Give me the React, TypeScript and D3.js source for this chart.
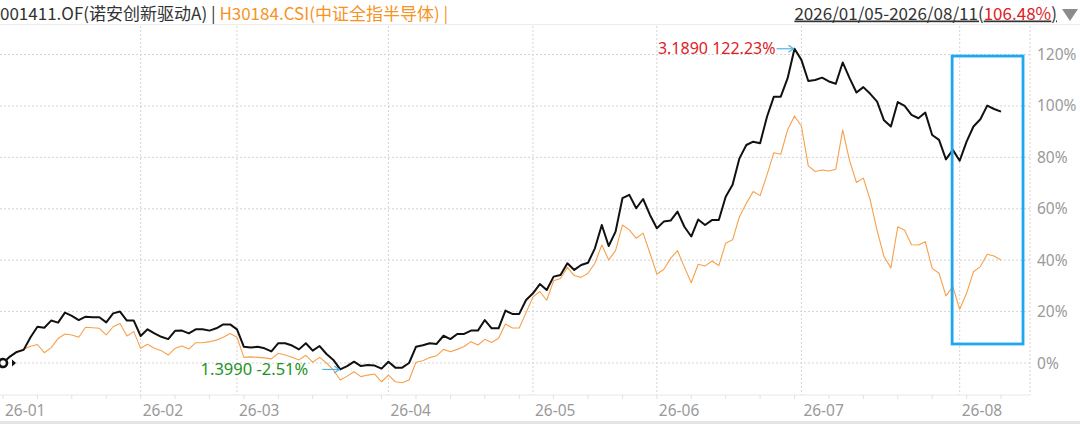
import { useEffect } from "react"
import * as d3 from "d3"

// month ticks (trading-day index of first session of each month)
const monthLabels = ["26-01", "26-02", "26-03", "26-04", "26-05", "26-06", "26-07", "26-08"]
const monthStart = [0, 20, 34, 56, 77, 95, 116, 139]

const yTicks = [0, 20, 40, 60, 80, 100, 120]

// 001411.OF cumulative return, %
const fundPct = [
  0, 2.5, 4.3, 5.1, 10.0, 14.1, 13.7, 16.5, 15.7, 19.6,
  18.3, 16.7, 18.0, 17.8, 17.8, 15.8, 19.3, 20.0, 16.5, 16.5,
  10.5, 13.1, 11.5, 10.2, 9.3, 12.5, 12.6, 11.5, 13.1, 13.1,
  12.6, 13.5, 15.0, 15.0, 13.1, 6.3, 6.0, 6.3, 5.7, 4.5,
  7.7, 7.7, 6.8, 5.3, 7.7, 4.8, 6.6, 3.5, 1.2, -2.51,
  -1.2, 0.5, -1.2, -0.8, -1.0, -2.2, 0.5, -1.8, -1.8, 0.0,
  6.3, 6.9, 7.7, 7.4, 10.6, 9.3, 11.3, 11.3, 12.6, 12.6,
  16.7, 13.5, 13.5, 20.4, 19.1, 19.1, 24.5, 27.1, 30.7, 28.4,
  33.6, 34.2, 38.8, 36.2, 38.1, 39.0, 44.6, 53.7, 45.5, 51.1,
  64.1, 65.4, 60.2, 63.8, 57.6, 52.4, 55.0, 55.4, 58.9, 53.0,
  49.2, 55.8, 53.7, 55.6, 55.6, 64.7, 69.3, 79.6, 84.8, 86.1,
  85.5, 95.8, 103.6, 103.6, 110.8, 122.23, 117.9, 109.7, 110.1, 111.0,
  109.5, 108.6, 116.9, 110.8, 105.2, 107.3, 104.7, 101.7, 94.4, 92.0,
  101.5, 100.0, 96.5, 95.2, 97.4, 88.7, 86.8, 79.2, 82.9, 78.7,
  86.1, 92.0, 94.8, 100.1, 98.8, 97.8,
]

// H30184.CSI cumulative return, %
const indexPct = [
  0, 2.3, 4.3, 5.4, 6.5, 7.2, 4.0, 6.0, 9.5, 11.3,
  10.9, 10.0, 13.9, 13.7, 13.5, 10.9, 14.1, 15.4, 10.5, 12.2,
  5.7, 7.3, 5.7, 4.8, 3.1, 5.7, 6.6, 5.4, 7.9, 7.9,
  8.3, 8.9, 10.0, 11.5, 10.0, 2.2, 2.4, 2.2, 2.0, 1.6,
  3.8, 3.1, 2.2, 1.2, 3.0, 0.3, 2.2, 0.0, -2.7, -6.6,
  -5.1, -3.4, -5.3, -4.7, -4.3, -7.3, -4.7, -7.3, -7.7, -6.6,
  0.3, 0.9, 2.1, 2.8, 5.3, 4.4, 5.3, 6.4, 8.3, 7.0,
  9.2, 8.0, 9.6, 15.2, 13.6, 13.6, 19.6, 25.7, 27.8, 24.4,
  32.0, 32.9, 37.2, 34.0, 33.3, 34.9, 38.8, 45.9, 40.1, 43.7,
  53.7, 51.8, 48.5, 50.5, 42.7, 34.6, 36.4, 40.7, 43.7, 37.3,
  31.2, 38.4, 37.7, 39.7, 37.9, 46.6, 47.9, 56.9, 62.1, 66.7,
  65.1, 73.2, 81.8, 81.2, 90.7, 96.1, 92.2, 76.7, 74.5, 75.1,
  74.7, 75.4, 90.7, 78.7, 70.2, 71.9, 63.4, 51.5, 41.4, 37.0,
  53.0, 51.6, 46.0, 45.9, 47.2, 36.8, 34.9, 26.1, 29.7, 20.9,
  27.1, 35.5, 37.5, 42.3, 41.6, 40.1,
]

const maxPoint = { idx: 115, nav: "3.1890", pct: 122.23 }
const minPoint = { idx: 49, nav: "1.3990", pct: -2.51 }
// highlight box, in index / percent units
const highlight = { from: 137.9, to: 148.2, top: 119.4, bottom: 7.4 }

const W = 1080
const H = 424
const plotRight = 1030
const axisY = 395

export default function App() {
  useEffect(() => {
    document.body.style.margin = "0"
  }, [])

  const x = d3.scaleLinear().domain([0, fundPct.length - 1]).range([3, 1001])
  const y = d3.scaleLinear().domain([0, 120]).range([363, 54.5])

  const line = d3
    .line<number>()
    .x((d, i) => x(i))
    .y((d) => y(d))

  const font = "'Noto Sans CJK SC', 'Noto Sans', sans-serif"
  const latin = "'Noto Sans', sans-serif"
  const weekTicks = d3.range(0, fundPct.length, 5)

  const arrow = (px: number, py: number) => {
    const x1 = px - 18
    return (
      <g stroke="#4fb3e0" strokeWidth={1.2} fill="none">
        <line x1={x1} y1={py} x2={px - 1} y2={py} />
        <path d={`M${px - 6},${py - 3.5} L${px - 1},${py} L${px - 6},${py + 3.5}`} />
      </g>
    )
  }

  return (
    <svg width={W} height={H} style={{ display: "block", background: "#fff" }} fontFamily={font}>
      {/* header */}
      <text x={0} y={19.5} fontSize={17} fill="#333">
        001411.OF(诺安创新驱动A) |{" "}
        <tspan fill="#f7931e">H30184.CSI(中证全指半导体) |</tspan>
      </text>
      <text x={1057} y={19.5} fontSize={17} fill="#333" textAnchor="end" style={{ textDecoration: "underline" }}>
        2026/01/05-2026/08/11(<tspan fill="#e0201f">106.48%</tspan>)
      </text>
      <path d="M1062,9 L1078,9 L1070,21 Z" fill="#8c8c8c" />
      <line x1={0} x2={W} y1={24.5} y2={24.5} stroke="#ececec" />

      {/* grid */}
      <g stroke="#d4d4d4" strokeDasharray="2 2">
        {yTicks.map((t) => (
          <line key={t} x1={0} x2={plotRight} y1={y(t)} y2={y(t)} />
        ))}
        {monthStart.slice(1).map((m) => (
          <line key={m} x1={x(m)} x2={x(m)} y1={26} y2={axisY} />
        ))}
        <line x1={plotRight} x2={plotRight} y1={26} y2={axisY} />
      </g>

      {/* right axis */}
      {yTicks.map((t) => (
        <text key={t} x={1037} y={y(t) + 5.5} fontSize={15.5} fill="#9a9a9a" fontFamily={latin}>
          {t}%
        </text>
      ))}

      {/* bottom axis */}
      <line x1={0} x2={plotRight} y1={axisY} y2={axisY} stroke="#e8e8e8" />
      <g stroke="#e0e0e0">
        {weekTicks.map((t) => (
          <line key={t} x1={x(t)} x2={x(t)} y1={axisY} y2={axisY + 4} />
        ))}
      </g>
      {monthLabels.map((m, i) => (
        <text key={m} x={x(monthStart[i]) + 2} y={416} fontSize={15.5} fill="#9a9a9a" fontFamily={latin}>
          {m}
        </text>
      ))}
      <rect x={0} y={421} width={W} height={3} fill="#e4e4e4" />

      {/* series */}
      <path d={line(indexPct) ?? ""} fill="none" stroke="#f7a04b" strokeWidth={1.1} strokeLinejoin="round" />
      <path d={line(fundPct) ?? ""} fill="none" stroke="#111" strokeWidth={2} strokeLinejoin="round" />

      {/* start marker */}
      <circle cx={x(0)} cy={y(0)} r={4} fill="#fff" stroke="#111" strokeWidth={2.6} />
      <path d={`M${x(0) + 9},${y(0) - 3.5} L${x(0) + 13},${y(0)} L${x(0) + 9},${y(0) + 3.5} Z`} fill="#111" />

      {/* highlight box */}
      <rect
        x={x(highlight.from)}
        y={y(highlight.top)}
        width={x(highlight.to) - x(highlight.from)}
        height={y(highlight.bottom) - y(highlight.top)}
        fill="none"
        stroke="#1ea8f2"
        strokeWidth={2.8}
      />

      {/* max / min annotations */}
      <text x={x(maxPoint.idx) - 19} y={y(maxPoint.pct) + 5.5} fontSize={16} fill="#e0201f" textAnchor="end" fontFamily={latin}>
        {maxPoint.nav} {maxPoint.pct.toFixed(2)}%
      </text>
      {arrow(x(maxPoint.idx), y(maxPoint.pct))}
      <text x={x(minPoint.idx) - 32} y={y(minPoint.pct) + 6} fontSize={16.5} fill="#239323" textAnchor="end" fontFamily={latin}>
        {minPoint.nav} {minPoint.pct.toFixed(2)}%
      </text>
      {arrow(x(minPoint.idx), y(minPoint.pct))}
    </svg>
  )
}
